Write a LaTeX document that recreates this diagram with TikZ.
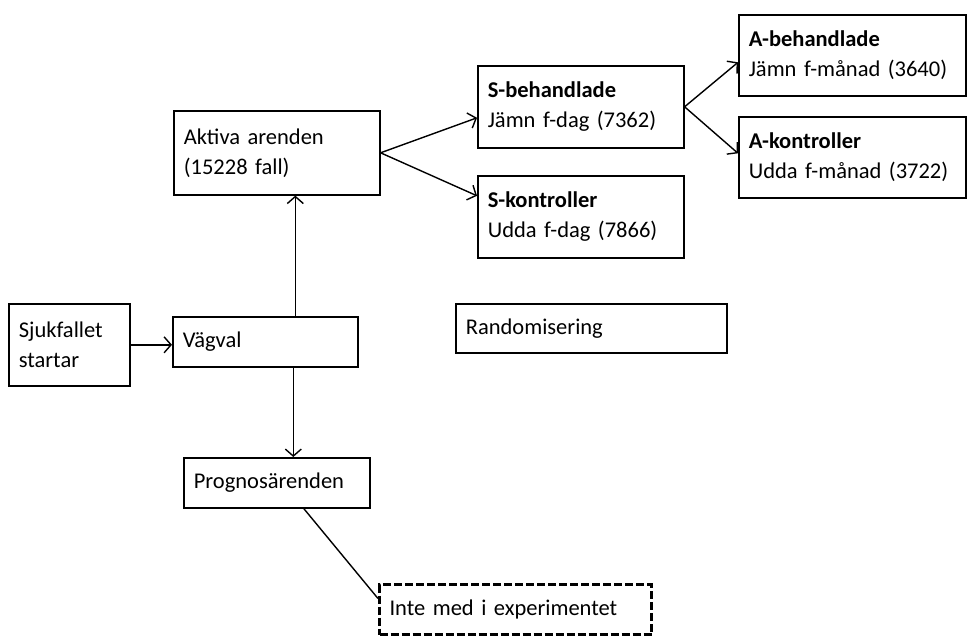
\documentclass[tikz,border=0pt]{standalone}
\usepackage{fontspec}
\setmainfont{Carlito}
\usepackage{tikz}
\usetikzlibrary{arrows.meta}

\tikzset{
    box/.style = {draw, rectangle, line width = 1.6pt, anchor = north west, align = left,
                  inner xsep = 10pt, inner ysep = 0pt, font = \fontsize{22.5}{30}\selectfont},
    outbox/.style = {box, line width = 3pt, dash pattern = on 8pt off 3pt},
    flow/.style = {line width = 1.4pt, -{Straight Barb[length = 7pt, width = 16pt]}}
}

\begin{document}
\begin{tikzpicture}[x = 1pt, y = -1pt]
        \useasboundingbox (0,0) rectangle (968,635);

        \node (sjuk) [box, text width = 101pt, minimum height = 82pt] at (8,303) {Sjukfallet\\startar};
        \node (vagval) [box, text width = 165pt, minimum height = 50pt] at (172,316) {Vägval};
        \node (aktiva) [box, text width = 186pt, minimum height = 84pt] at (173,110) {Aktiva arenden\\(15228 fall)};
        \node (progn) [box, text width = 166pt, minimum height = 50pt] at (183,457) {Prognosärenden};
        \node (inte) [outbox, text width = 252pt, minimum height = 50pt] at (378,583) {Inte med i experimentet};
    
        \node (sbeh) [box, text width = 186pt, minimum height = 82pt] at (477,65) {\textbf{S-behandlade}\\Jämn f-dag (7362)};
        \node (skon) [box, text width = 186pt, minimum height = 82pt] at (477,175) {\textbf{S-kontroller}\\Udda f-dag (7866)};
        \node (rand) [box, text width = 251pt, minimum height = 49pt] at (455,303) {Randomisering};
        \node (abeh) [box, text width = 207pt, minimum height = 81pt] at (738,14) {\textbf{A-behandlade}\\Jämn f-månad (3640)};
        \node (akon) [box, text width = 207pt, minimum height = 81pt] at (738,116) {\textbf{A-kontroller}\\Udda f-månad (3722)};
    
        \draw [flow] (sjuk.east) -- (sjuk.east -| vagval.west);
        \draw [flow] ([xshift = 30pt]vagval.north) -- ([xshift = 30pt]vagval.north |- aktiva.south);
        \draw [flow] ([xshift = 28pt]vagval.south) -- ([xshift = 28pt]vagval.south |- progn.north);
        \draw [line width = 1.4pt] ([xshift = 27pt]progn.south) -- ([yshift = 11pt]inte.west);

        \draw [flow] (aktiva.east) -- ([yshift = -11pt]sbeh.west);
        \draw [flow] (aktiva.east) -- ([yshift = 21pt]skon.west);
        \draw [flow] (sbeh.east) -- ([yshift = -7pt]abeh.west);
        \draw [flow] (sbeh.east) -- ([yshift = 4pt]akon.west);
    \end{tikzpicture}
\end{document}
